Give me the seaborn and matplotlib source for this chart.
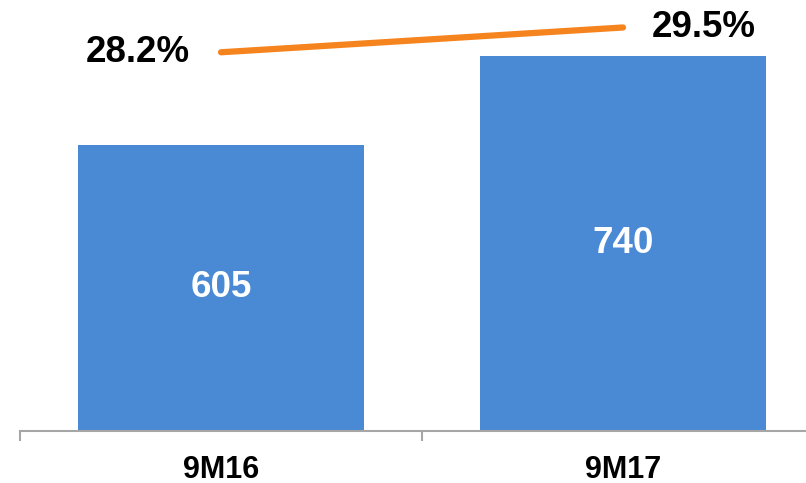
import matplotlib
matplotlib.use("Agg")
import matplotlib.pyplot as plt
import seaborn as sns
import pandas as pd

categories = ["9M16", "9M17"]
values = [605, 740]
margin = [28.2, 29.5]

sns.set_theme(style="white")
plt.rcParams['font.family'] = ['Liberation Sans', 'DejaVu Sans']

BLUE = "#4A8AD4"
ORANGE = "#F5841F"

fig = plt.figure(figsize=(8.06, 4.83), dpi=100)
W, H = 806, 483
ax = fig.add_axes([20 / W, (H - 431) / H, 804 / W, 431 / H])

df = pd.DataFrame({"cat": categories, "val": values, "m": margin})
sns.barplot(data=df, x="cat", y="val", ax=ax, color=BLUE, saturation=1,
            width=0.71, edgecolor="none")
ax.set_xlim(-0.5, 1.5)
ax.set_ylim(170.6, 824.3)

for c in ax.containers:
    ax.bar_label(c, labels=[f"{v:d}" for v in values], label_type="center",
                 color="white", fontsize=26.5, fontweight="bold")

for s in ["top", "right", "left"]:
    ax.spines[s].set_visible(False)
ax.spines["bottom"].set_color("#A6A6A6")
ax.spines["bottom"].set_linewidth(1.5)
ax.set_yticks([])
ax.set_xlabel("")
ax.set_ylabel("")
ax.set_xticks([-0.5, 0.5, 1.5], minor=True)
ax.tick_params(axis="x", which="minor", length=7, width=1.5, color="#A6A6A6", bottom=True)
ax.tick_params(axis="x", which="major", length=0, pad=17, labelsize=22)
for t in ax.get_xticklabels():
    t.set_fontweight("bold")
    t.set_color("black")

ax2 = ax.twinx()
sns.lineplot(data=df, x="cat", y="m", ax=ax2, color=ORANGE, linewidth=4.5,
             sort=False, solid_capstyle="round")
ax2.set_ylim(8.35, 30.94)
ax2.set_xlim(-0.5, 1.5)
ax2.axis("off")

offsets = [(-60, 0), (58, 0)]
for i, (c, m) in enumerate(zip(categories, margin)):
    ax2.annotate(f"{m:.1f}%", xy=(i, m), xytext=offsets[i], textcoords="offset points",
                 ha="center", va="center", fontsize=26.5, fontweight="bold", color="black")

fig.savefig("out.png", dpi=100)
